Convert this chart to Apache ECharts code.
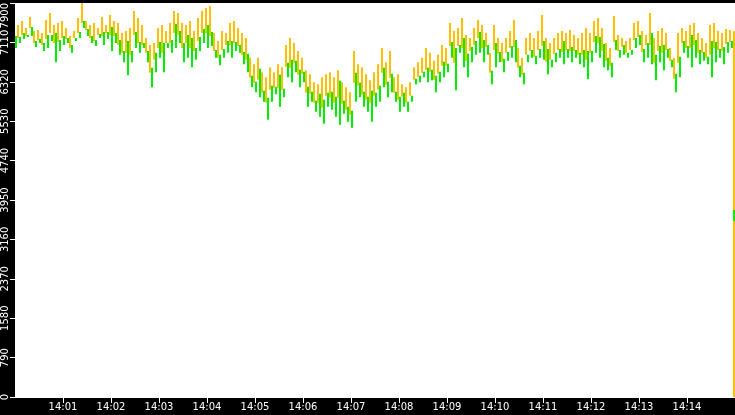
<!DOCTYPE html>
<html>
<head>
<meta charset="utf-8">
<script src="https://cdn.jsdelivr.net/npm/echarts@6/dist/echarts.min.js"></script>
<style>
html,body{margin:0;padding:0;background:#000;}
#chart{width:735px;height:415px;}
</style>
</head>
<body>
<div id="chart"></div>
<script>
// Seconds after 14:00 between consecutive columns
const stepSeconds = 5;
// Tick labels of the time axis (one per minute)
const timeTicks = ['14:01','14:02','14:03','14:04','14:05','14:06','14:07','14:08','14:09','14:10','14:11','14:12','14:13','14:14'];
// Orange range: upper end per column
const orangeHigh = [7500,7460,7540,7400,7620,7340,7360,7300,7560,7700,7460,7500,7540,7400,7240,7340,7600,7900,7540,7460,
7500,7400,7620,7460,7660,7540,7500,7300,7340,7400,7740,7600,7460,7200,7060,7100,7400,7460,7340,7500,
7740,7700,7500,7460,7540,7340,7600,7740,7800,7840,7300,7140,7340,7300,7500,7540,7400,7300,7200,6800,
6670,6800,6510,6410,6610,6510,6670,6610,7060,7200,7100,6940,6800,6550,6470,6310,6270,6410,6470,6510,
6410,6550,6310,6210,6110,6940,6670,6610,6470,6350,6510,6670,7000,6710,6940,6410,6470,6270,6210,6310,
6610,6710,6800,7000,6900,6740,6860,7060,7000,7500,7340,7400,7600,7260,7200,7400,7560,7460,7300,6900,
7460,7200,7100,7200,7340,7560,7000,6800,7200,7300,7200,7340,7660,7200,7100,7200,7300,7340,7300,7360,
7260,7200,7300,7400,7300,7540,7600,7400,7100,7000,7640,7260,7200,7140,7200,7500,7540,7340,7260,7700,
7200,7340,7400,7300,7000,6800,7300,7400,7340,7460,7500,7300,7200,7100,7460,7500,7340,7300,7380,7360];
// Orange range: lower end per column
const orangeLow = [7200,7200,7260,7240,7400,7100,7160,7060,7180,7300,7100,7120,7200,7180,7000,7200,7300,7500,7360,7200,
7140,7260,7240,7300,7260,7240,7060,6900,6900,6860,7260,7100,7060,6900,6500,6760,7000,6900,7100,7100,
7300,7260,7000,7100,7000,6940,7140,7300,7300,7240,6940,6800,6960,7060,7060,7100,7040,6860,6760,6400,
6300,6360,6100,5900,6160,6200,6200,6160,6620,6600,6700,6460,6480,6100,6080,5900,5900,5800,6040,6000,
5900,6000,5880,5760,5660,6300,6240,6060,5960,5900,6040,6160,6500,6260,6400,6100,5960,6020,5900,6040,
6360,6420,6500,6560,6520,6360,6480,6640,6640,7040,6700,7040,7000,6740,6940,7060,7200,7000,7020,6500,
6960,6880,6720,6900,7000,7020,6600,6460,6860,6940,6820,6960,7040,6720,6760,6880,6960,6920,6960,6940,
6940,6860,6860,6760,6900,7120,7100,6940,6740,6640,7120,6940,7020,6900,6960,7160,7220,6920,7060,7060,
6700,6940,6900,6960,6740,6380,6700,7100,7000,7000,7060,6900,6900,6800,6860,7000,6960,6940,7080,7120];
// Green range: upper end per column
const greenHigh = [7240,7220,7300,7260,7420,7140,7180,7100,7260,7260,7300,7160,7240,7200,7060,7200,7320,7540,7380,7240,
7160,7280,7320,7320,7420,7300,7160,6940,7140,6940,7320,7120,7100,6940,6600,6900,7120,7100,7100,7160,
7480,7340,7100,7260,7200,7000,7220,7380,7460,7320,6960,6860,6980,7140,7140,7120,7060,6920,6880,6440,
6320,6580,6140,6000,6240,6220,6460,6180,6700,6760,6740,6560,6520,6220,6120,5940,6080,5960,6100,6120,
6020,6340,5940,5820,5740,6500,6300,6120,6020,6140,6100,6240,6600,6320,6480,6120,6020,6100,5920,6040,
6380,6440,6520,6600,6560,6440,6520,6720,6680,7120,7000,7060,7200,6880,7020,7140,7320,7160,7060,6540,
7100,6920,6780,6920,7040,7160,6640,6500,6860,6960,6840,6980,7140,6980,6760,6900,6980,7140,6980,7020,
6960,6900,6960,6940,6940,7240,7220,7080,6800,6700,7160,6960,7060,6900,6960,7200,7260,6980,7100,7300,
6860,7040,7060,6980,6760,6480,6820,7140,7040,7260,7160,6960,6920,6820,7140,7120,6980,7020,7120,7140];
// Green range: lower end per column
const greenLow = [7000,7100,7180,7220,7240,7020,7100,6940,7000,7140,6710,6940,7060,7100,6900,7140,7200,7400,7240,7100,
7040,7200,7060,7180,6940,7100,6860,6710,6450,6710,7000,6900,7000,6710,6210,6510,6800,6510,7000,6900,
7000,7100,6710,6800,6610,6760,6940,7100,7000,7040,6800,6650,6800,6900,6800,6940,6900,6670,6510,6210,
6110,6010,5920,5560,5920,6070,5820,6010,6410,6310,6510,6210,6310,5820,5920,5720,5620,5480,5820,5760,
5620,5460,5680,5520,5400,5920,6010,5820,5720,5520,5820,5920,6210,6010,6110,5920,5720,5820,5720,5920,
6270,6310,6410,6310,6350,6110,6310,6410,6510,6800,6150,6900,6610,6410,6710,6860,6900,6710,6860,6270,
6610,6710,6510,6740,6800,6710,6410,6270,6710,6800,6670,6800,6760,6470,6610,6710,6800,6670,6800,6710,
6800,6670,6610,6370,6710,6900,6800,6610,6550,6410,6960,6800,6860,6800,6860,7000,7060,6710,6800,6670,
6350,6710,6550,6800,6610,6110,6410,6900,6800,6610,6800,6670,6740,6670,6410,6710,6800,6670,6900,7000];
// The last tick at the right edge: a long orange range with a short green piece
const lastSecond = 899;
const lastOrange = [0, 7340];
const lastGreen = [3530, 3750];

const orangeData = orangeHigh.map((h, i) => [i * stepSeconds, orangeLow[i], h]);
orangeData.push([lastSecond, lastOrange[0], lastOrange[1]]);
const greenData = greenHigh.map((h, i) => [i * stepSeconds, greenLow[i], h]);
greenData.push([lastSecond, lastGreen[0], lastGreen[1]]);

// offset: horizontal position of the 2px bar relative to the column
function rangeRenderer(color, offset, lastIndex) {
  return function (params, api) {
    const x = api.value(0);
    const top = api.coord([x, api.value(2)]);
    const bot = api.coord([x, api.value(1)]);
    const px = Math.round(top[0]);
    const isLast = params.dataIndex === lastIndex;
    return {
      type: 'rect',
      shape: { x: isLast ? px - 1 : px + offset, y: top[1], width: 2, height: Math.max(1, bot[1] - top[1]) },
      style: { fill: color }
    };
  };
}

const chart = echarts.init(document.getElementById('chart'), null, { renderer: 'canvas' });
chart.setOption({
  backgroundColor: '#000',
  animation: false,
  grid: { left: 15, right: 0, top: 0, bottom: 18, show: true, backgroundColor: '#fff', borderWidth: 0 },
  xAxis: {
    type: 'value', min: 0, max: 900, offset: 1,
    axisLine: { show: true, lineStyle: { color: '#fff', width: 1 } },
    axisTick: { show: true, length: 6, lineStyle: { color: '#fff' }, customValues: timeTicks.map((t, i) => (i + 1) * 60) },
    axisLabel: {
      color: '#fff', fontFamily: 'DejaVu Sans', fontSize: 10, margin: 4,
      customValues: timeTicks.map((t, i) => (i + 1) * 60),
      formatter: v => timeTicks[Math.round(v / 60) - 1] || ''
    },
    splitLine: { show: false }
  },
  yAxis: {
    type: 'value', min: 0, max: 7900, interval: 790,
    axisLine: { show: false },
    axisTick: { show: true, length: 5, lineStyle: { color: '#fff' } },
    axisLabel: {
      color: '#fff', fontFamily: 'DejaVu Sans', fontSize: 10, rotate: 90, margin: 5,
      showMaxLabel: true, showMinLabel: true, hideOverlap: false,
      alignMaxLabel: 'right',
      formatter: v => String(v)
    },
    splitLine: { show: false }
  },
  series: [
    { type: 'custom', name: 'orange', renderItem: rangeRenderer('#ffbf00', -2, orangeHigh.length), data: orangeData, encode: { x: 0, y: [1, 2] }, clip: true, z: 2 },
    { type: 'custom', name: 'green', renderItem: rangeRenderer('#00ee00', 0, greenHigh.length), data: greenData, encode: { x: 0, y: [1, 2] }, clip: true, z: 3 }
  ]
});
</script>
</body>
</html>
